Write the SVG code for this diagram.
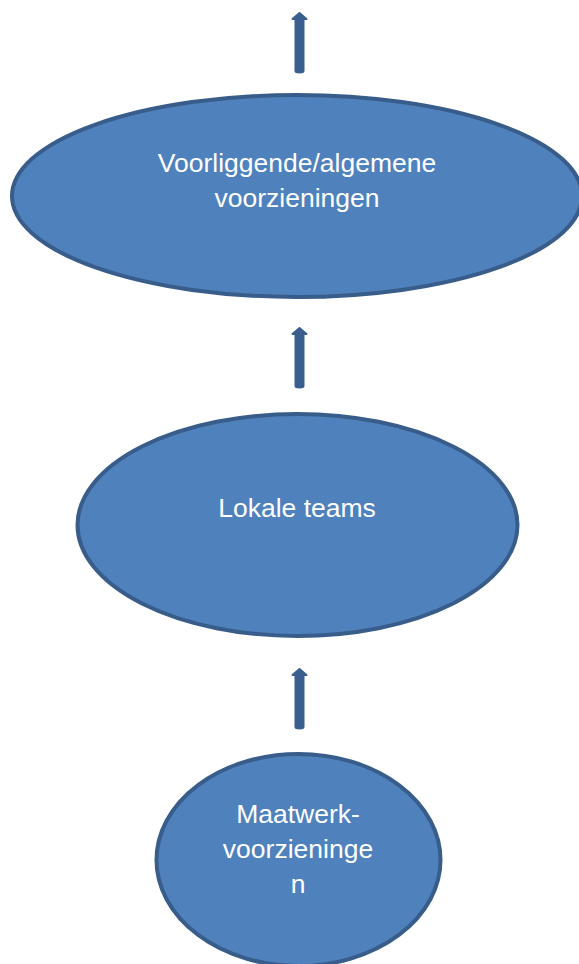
<svg xmlns="http://www.w3.org/2000/svg" width="579" height="964" viewBox="0 0 579 964">
<defs>
<style>
.node{fill:#4F81BD;stroke:#385D8A;stroke-width:4}
.lbl{font-family:"Liberation Sans",Arial,sans-serif;font-size:26.5px;fill:#FFFFFF;text-anchor:middle}
.arr{fill:#3A5F8E;stroke:#3A5F8E;stroke-width:2;stroke-linejoin:round}
</style>
<path id="arrow" d="M-4,0 L-4,-52 L-7,-52 L0,-58 L7,-52 L4,-52 L4,0 Q4,1.5 0,1.5 Q-4,1.5 -4,0 Z"/>
</defs>
<rect width="579" height="964" fill="#FFFFFF"/>
<g id="connectors">
<use href="#arrow" class="arr" transform="translate(299.5,71)"/>
<use href="#arrow" class="arr" transform="translate(299.5,386)"/>
<use href="#arrow" class="arr" transform="translate(299.5,727)"/>
</g>
<g id="node-voorliggend">
<ellipse class="node" cx="297" cy="196" rx="285" ry="101"/>
<text class="lbl" x="297" y="172">Voorliggende/algemene</text>
<text class="lbl" x="297" y="207">voorzieningen</text>
</g>
<g id="node-lokale">
<ellipse class="node" cx="297.5" cy="525" rx="220" ry="111"/>
<text class="lbl" x="297" y="517">Lokale teams</text>
</g>
<g id="node-maatwerk">
<ellipse class="node" cx="298.5" cy="860" rx="142" ry="106"/>
<text class="lbl" x="298" y="823">Maatwerk-</text>
<text class="lbl" x="298" y="858">voorzieninge</text>
<text class="lbl" x="298" y="893">n</text>
</g>
</svg>
